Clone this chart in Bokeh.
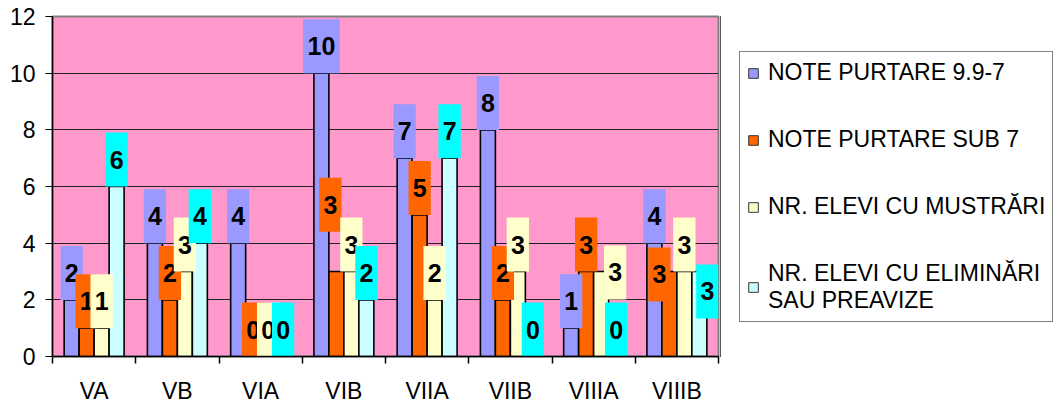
from bokeh.plotting import figure
from bokeh.layouts import row
from bokeh.models import ColumnDataSource, FixedTicker, Range1d, Legend, LegendItem
from bokeh.embed import file_html
from bokeh.resources import INLINE
from bokeh.core.properties import value

# ---- data ----
classes = ["VA", "VB", "VIA", "VIB", "VIIA", "VIIB", "VIIIA", "VIIIB"]
series_names = [
    "NOTE PURTARE 9.9-7",
    "NOTE PURTARE SUB 7",
    "NR. ELEVI CU MUSTRĂRI",
    "NR. ELEVI CU ELIMINĂRI\nSAU PREAVIZE",
]
note_purtare_9_9_7 = [2, 4, 4, 10, 7, 8, 1, 4]
note_purtare_sub_7 = [1, 2, 0, 3, 5, 2, 3, 3]
elevi_mustrari = [1, 3, 0, 3, 2, 3, 3, 3]
elevi_eliminari = [6, 4, 0, 2, 7, 0, 0, 3]
y_ticks = [0, 2, 4, 6, 8, 10, 12]

series_values = [note_purtare_9_9_7, note_purtare_sub_7, elevi_mustrari, elevi_eliminari]

# ---- style ----
bar_colors = ["#9999FF", "#FF6600", "#FFFFCC", "#CCFFFF"]
label_colors = ["#9999FF", "#FF6600", "#FFFFCC", "#00FFFF"]
FONT = "Liberation Sans"

H = 406
W_CHART, W_LEGEND = 720, 340
B_LEFT, B_RIGHT, B_TOP, B_BOTTOM = 52, 2, 16, 49
FRAME_W = W_CHART - B_LEFT - B_RIGHT
FRAME_H = H - B_TOP - B_BOTTOM
Y_MAX = 12
PX_PER_Y = FRAME_H / Y_MAX
PX_PER_X = FRAME_W / len(classes)

bar_w = 0.18
offsets = [-0.27, -0.09, 0.09, 0.27]
box_h = 54  # label box height, px
# manual nudges of data labels (class index, series index) -> (dx px, dy px)
label_nudge = {
    (3, 1): (-6, 40),
    (6, 2): (14, -28),
    (7, 1): (-10, -30),
    (7, 3): (8, -47),
}

p = figure(
    width=W_CHART, height=H, output_backend="svg", toolbar_location=None,
    x_range=Range1d(0, len(classes)), y_range=Range1d(0, Y_MAX),
    min_border_left=B_LEFT, min_border_right=B_RIGHT,
    min_border_top=B_TOP, min_border_bottom=B_BOTTOM,
    background_fill_color="#FF99CC", border_fill_color="white",
    outline_line_color="#808080", outline_line_width=2,
)
p.xgrid.visible = False
p.ygrid.ticker = FixedTicker(ticks=y_ticks)
p.ygrid.grid_line_color = "#222222"
p.ygrid.grid_line_width = 1

# y axis
p.yaxis.ticker = FixedTicker(ticks=y_ticks)
p.yaxis.axis_line_color = "black"
p.yaxis.axis_line_width = 1.5
p.yaxis.major_tick_line_color = "black"
p.yaxis.major_tick_out = 7
p.yaxis.major_tick_in = 0
p.yaxis.minor_tick_line_color = None
p.yaxis.major_label_text_font = FONT
p.yaxis.major_label_text_font_size = "23px"
p.yaxis.major_label_text_color = "black"
p.yaxis.major_label_standoff = 10

# x axis: names at category centres, ticks at category boundaries
centres = [i + 0.5 for i in range(len(classes))]
bounds = [float(i) for i in range(len(classes) + 1)]
p.xaxis.ticker = FixedTicker(ticks=centres, minor_ticks=bounds)
p.xaxis.major_label_overrides = {c: name for c, name in zip(centres, classes)}
p.xaxis.axis_line_color = "black"
p.xaxis.axis_line_width = 1.5
p.xaxis.major_tick_out = 0
p.xaxis.major_tick_in = 0
p.xaxis.minor_tick_line_color = "black"
p.xaxis.minor_tick_line_width = 1.5
p.xaxis.minor_tick_out = 7
p.xaxis.minor_tick_in = 0
p.xaxis.major_label_text_font = FONT
p.xaxis.major_label_text_font_size = "23px"
p.xaxis.major_label_text_color = "black"
p.xaxis.major_label_standoff = 14

# bars
bar_sources = []
for s, vals in enumerate(series_values):
    src = ColumnDataSource(dict(x=[i + 0.5 + offsets[s] for i in range(len(classes))], top=vals))
    bar_sources.append(src)
    p.vbar(x="x", top="top", bottom=0, width=bar_w, source=src,
           fill_color=bar_colors[s], line_color="black", line_width=1.6)

# data labels (coloured boxes with bold numbers)
for s, vals in enumerate(series_values):
    xs, ys, ws, txt = [], [], [], []
    for i, v in enumerate(vals):
        dx, dy = label_nudge.get((i, s), (0, 0))
        t = str(v)
        xs.append(i + 0.5 + offsets[s] + dx / PX_PER_X)
        ys.append(v + (box_h / 2 + dy) / PX_PER_Y)
        ws.append(8 + 14.3 * len(t))
        txt.append(t)
    src = ColumnDataSource(dict(x=xs, y=ys, w=ws, t=txt))
    p.rect(x="x", y="y", width="w", height=box_h, width_units="screen", height_units="screen",
           source=src, fill_color=label_colors[s], line_color=None)
    p.text(x="x", y="y", text="t", source=src, text_align="center", text_baseline="middle",
           text_font=value(FONT), text_font_style="bold", text_font_size="25px", text_color="black")

# ---- legend panel (same series, drawn off-view so only the legend shows) ----
pl = figure(
    width=W_LEGEND, height=H, output_backend="svg", toolbar_location=None,
    x_axis_type=None, y_axis_type=None,
    x_range=Range1d(100, 101), y_range=Range1d(0, 1),
    min_border_left=0, min_border_right=0,
    min_border_top=B_TOP, min_border_bottom=B_BOTTOM,
    outline_line_color=None,
    background_fill_color="white", border_fill_color="white",
)
legend_renderers = []
for s, src in enumerate(bar_sources):
    r = pl.vbar(x="x", top="top", bottom=0, width=bar_w, source=src,
                fill_color=bar_colors[s], line_color="#333333", line_width=1)
    legend_renderers.append(r)

legend = Legend(
    items=[LegendItem(label=n, renderers=[r], index=0) for n, r in zip(series_names, legend_renderers)],
    location=(19, 34), orientation="vertical", margin=0, padding=7, spacing=40,
    glyph_width=12, glyph_height=12, label_standoff=9,
    label_text_font=FONT, label_text_font_size="23px", label_text_color="black",
    label_text_line_height=1.3,
    border_line_color="black", border_line_width=1, background_fill_color="white",
)
pl.add_layout(legend, "center")

layout = row(p, pl)
open("out.html", "w").write(file_html(layout, INLINE))
